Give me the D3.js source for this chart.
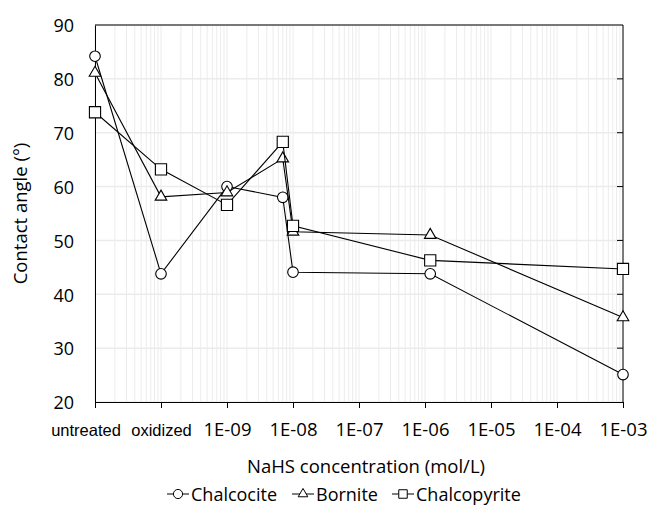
<!DOCTYPE html>
<html lang="en">
<head>
<meta charset="UTF-8">
<title>Contact angle vs NaHS concentration</title>
<script src="https://d3js.org/d3.v7.min.js"></script>
<style>
    body { margin: 0; background: #fff; }
    svg { display: block; }
    text { font-family: "Open Sans", sans-serif; fill: #000; }
</style>
</head>
<body>
<div id="chart"></div>
<script>
    // x positions: untreated and oxidized sit on the 1E-11 and 1E-10 slots of the log axis
    const concentrations = [1e-11, 1e-10, 1e-9, 7e-9, 1e-8, 1.2e-6, 1e-3];
    const tickValues = [1e-11, 1e-10, 1e-9, 1e-8, 1e-7, 1e-6, 1e-5, 1e-4, 1e-3];
    const tickLabels = ["untreated", "oxidized", "1E-09", "1E-08", "1E-07", "1E-06", "1E-05", "1E-04", "1E-03"];

    const chalcocite   = [84.2, 43.8, 60.0, 58.0, 44.1, 43.8, 25.1];
    const bornite      = [81.1, 58.1, 58.9, 65.2, 51.6, 51.0, 35.7];
    const chalcopyrite = [73.8, 63.2, 56.6, 68.3, 52.7, 46.3, 44.7];

    const seriesNames = ["Chalcocite", "Bornite", "Chalcopyrite"];
    const seriesSymbols = [d3.symbolCircle, d3.symbolTriangle, d3.symbolSquare];
    const yTicks = [20, 30, 40, 50, 60, 70, 80, 90];

    const width = 649, height = 507;
    const margin = {top: 25, right: 26, bottom: 105, left: 95};
    const plotW = width - margin.left - margin.right;
    const plotH = height - margin.top - margin.bottom;

    const svg = d3.select("#chart").append("svg")
        .attr("width", width)
        .attr("height", height);

    const x = d3.scaleLog().domain([1e-11, 1e-3]).range([0, plotW]);
    const y = d3.scaleLinear().domain([20, 90]).range([plotH, 0]);

    const g = svg.append("g")
        .attr("transform", `translate(${margin.left},${margin.top})`);

    // minor log gridlines
    const minor = [];
    tickValues.slice(0, -1).forEach(d => {
        for (let k = 2; k <= 9; k++) minor.push(d * k);
    });
    g.append("g").selectAll("line")
        .data(minor.concat(tickValues))
        .enter().append("line")
        .attr("x1", d => x(d)).attr("x2", d => x(d))
        .attr("y1", 0).attr("y2", plotH)
        .attr("stroke", "#ececec")
        .attr("stroke-width", 1);

    // horizontal gridlines
    g.append("g").selectAll("line")
        .data(yTicks)
        .enter().append("line")
        .attr("x1", 0).attr("x2", plotW)
        .attr("y1", d => y(d)).attr("y2", d => y(d))
        .attr("stroke", "#ebebeb")
        .attr("stroke-width", 1.5);

    // frame: top and right
    g.append("line")
        .attr("x1", 0).attr("x2", plotW).attr("y1", 0).attr("y2", 0)
        .attr("stroke", "#000");
    g.append("line")
        .attr("x1", plotW).attr("x2", plotW).attr("y1", 0).attr("y2", plotH)
        .attr("stroke", "#000");
    g.append("g").selectAll("line")
        .data(yTicks.slice(1, -1))
        .enter().append("line")
        .attr("x1", plotW - 6).attr("x2", plotW)
        .attr("y1", d => y(d)).attr("y2", d => y(d))
        .attr("stroke", "#000");

    // left axis
    const yAxis = g.append("g")
        .call(d3.axisLeft(y).tickValues(yTicks).tickSize(0).tickPadding(21));
    yAxis.select(".domain").attr("stroke", "#000");
    yAxis.selectAll("text")
        .style("font-size", "18px")
        .style("font-family", "'Open Sans', sans-serif")
        .attr("dy", "0.38em");

    // bottom axis
    const xAxis = g.append("g")
        .attr("transform", `translate(0,${plotH})`)
        .call(d3.axisBottom(x).tickValues(tickValues).tickSize(6)
            .tickFormat((d, i) => tickLabels[i]));
    xAxis.select(".domain").attr("stroke", "#000");
    xAxis.selectAll("line").attr("stroke", "#000");
    xAxis.selectAll("text")
        .style("font-size", d => d < 1e-9 ? "16.5px" : "18.5px")
        .style("font-family", d => d < 1e-9 ? "'Liberation Sans', Arial, sans-serif" : "'Open Sans', sans-serif")
        .attr("dx", d => d === 1e-11 ? -9.5 : 0)
        .attr("y", 34)
        .attr("dy", 0);

    // series
    const allSeries = [chalcocite, bornite, chalcopyrite];
    const symbolSizes = [88, 58, 125];
    const line = d3.line()
        .x((d, i) => x(concentrations[i]))
        .y(d => y(d));

    allSeries.forEach((vals, s) => {
        const sg = g.append("g");
        sg.append("path")
            .datum(vals)
            .attr("fill", "none")
            .attr("stroke", "#000")
            .attr("stroke-width", 1.1)
            .attr("d", line);
        sg.selectAll("path.pt")
            .data(vals)
            .enter().append("path")
            .attr("class", "pt")
            .attr("transform", (d, i) => `translate(${x(concentrations[i])},${y(d)})`)
            .attr("d", d3.symbol().type(seriesSymbols[s]).size(symbolSizes[s]))
            .attr("fill", "#fff")
            .attr("stroke", "#000")
            .attr("stroke-width", 1.1);
    });

    // axis titles
    svg.append("text")
        .attr("x", 366)
        .attr("y", 472.5)
        .attr("text-anchor", "middle")
        .style("font-size", "18.5px")
        .text("NaHS concentration (mol/L)");

    svg.append("text")
        .attr("transform", `translate(27,${margin.top + plotH / 2}) rotate(-90)`)
        .attr("text-anchor", "middle")
        .style("font-size", "18.5px")
        .text("Contact angle (°)");

    // legend
    const legend = svg.append("g").attr("transform", "translate(0,494)");
    const legendX = [167, 292, 392];
    const legendSizes = [66, 40, 72];
    seriesNames.forEach((name, s) => {
        const lg = legend.append("g").attr("transform", `translate(${legendX[s]},0)`);
        lg.append("line")
            .attr("x1", 0).attr("x2", 22).attr("y1", 0).attr("y2", 0)
            .attr("stroke", "#000");
        lg.append("path")
            .attr("transform", "translate(11,0)")
            .attr("d", d3.symbol().type(seriesSymbols[s]).size(legendSizes[s]))
            .attr("fill", "#fff")
            .attr("stroke", "#000");
        lg.append("text")
            .attr("x", 24)
            .attr("y", 6.5)
            .style("font-size", "18px")
            .text(name);
    });
</script>
</body>
</html>
